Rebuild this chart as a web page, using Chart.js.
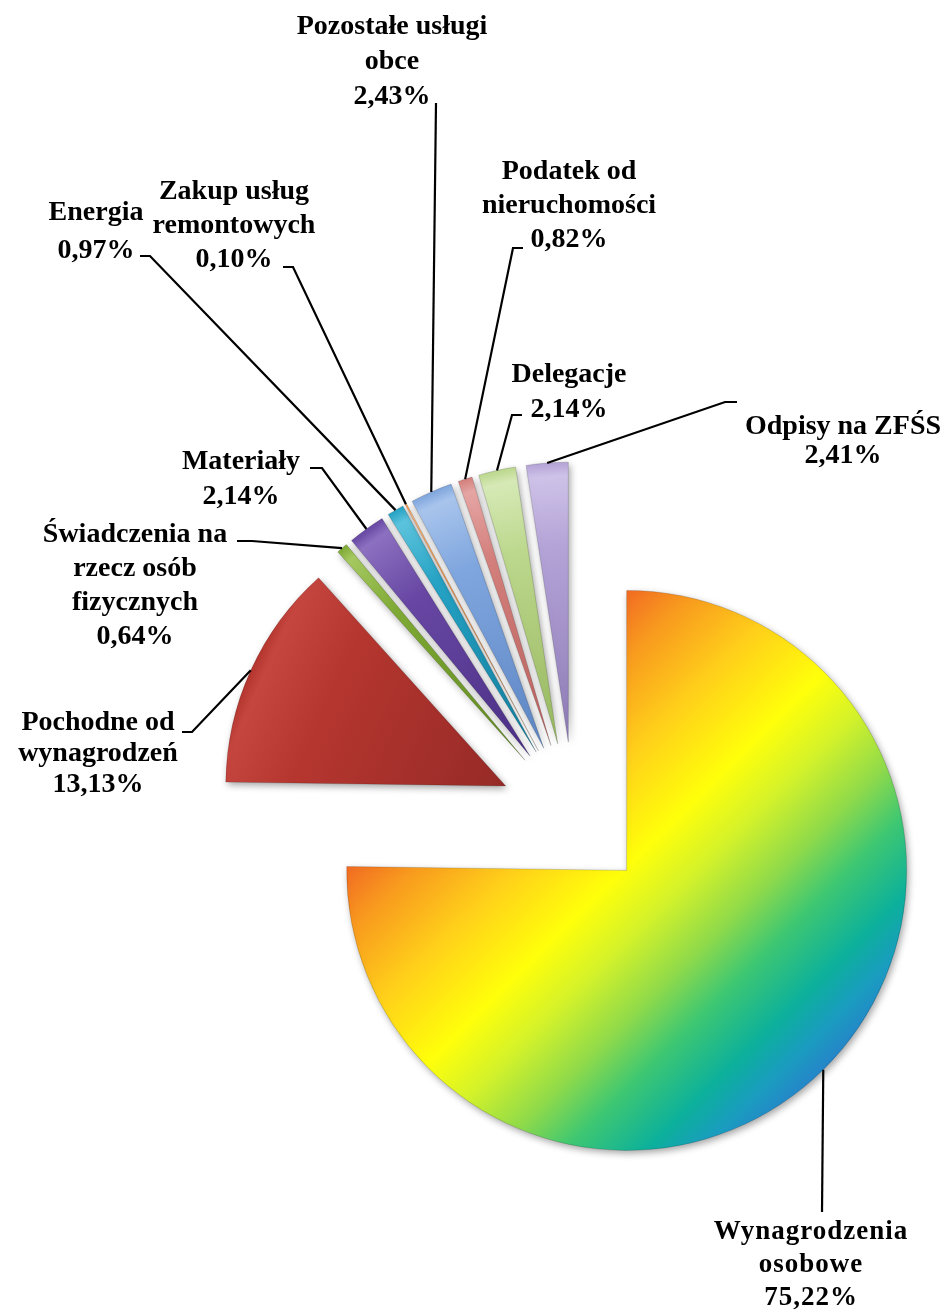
<!DOCTYPE html>
<html lang="pl">
<head>
<meta charset="utf-8">
<title>Struktura wydatków</title>
<script src="https://cdn.jsdelivr.net/npm/chart.js@4.4.1/dist/chart.umd.min.js"></script>
<style>
    html, body { margin: 0; padding: 0; background: #ffffff; }
    #wrap { width: 949px; height: 1312px; }
</style>
</head>
<body>
<div id="wrap"><canvas id="wykres" width="949" height="1312"></canvas></div>
<script>
// dane
const kategorie = ['Wynagrodzenia osobowe', 'Pochodne od wynagrodzeń', 'Świadczenia na rzecz osób fizycznych',
    'Materiały', 'Energia', 'Zakup usług remontowych', 'Pozostałe usługi obce',
    'Podatek od nieruchomości', 'Delegacje', 'Odpisy na ZFŚS'];
const udzialy = [75.22, 13.13, 0.64, 2.14, 0.97, 0.10, 2.43, 0.82, 2.14, 2.41];
// podział nazw na linie, jak na oryginale
const nazwyWLiniach = [
    ['Wynagrodzenia', 'osobowe'],
    ['Pochodne od', 'wynagrodzeń'],
    ['Świadczenia na', 'rzecz osób', 'fizycznych'],
    ['Materiały'],
    ['Energia'],
    ['Zakup usług', 'remontowych'],
    ['Pozostałe usługi', 'obce'],
    ['Podatek od', 'nieruchomości'],
    ['Delegacje'],
    ['Odpisy na ZFŚS']
];

// wygląd
const PROMIEN = 280;
const ODSUNIECIE = 75;
const kolory = [
    null, // gradient tęczowy
    ['#962a27', '#b5362f', '#c4463f'],
    ['#5f8a22', '#7faa35', '#a5c860'],
    ['#4b2f85', '#6747a3', '#8c70c0'],
    ['#147e9e', '#25a2c4', '#5cc3dd'],
    ['#d9772e', '#f39646', '#f8b47c'],
    ['#5e86c4', '#7fa6de', '#a8c4ec'],
    ['#b9625f', '#d4807d', '#e5a5a3'],
    ['#98b860', '#bcd88d', '#d6e9b6'],
    ['#8e7bb6', '#b4a3d7', '#cec2e8']
];
const tecza = [
    [0, '#f26b23'], [0.1, '#f89a1e'], [0.25, '#ffd01a'], [0.41, '#ffff0a'], [0.52, '#d4f22a'],
    [0.64, '#8fda4a'], [0.74, '#3ec772'], [0.86, '#0cb09b'], [0.94, '#1a9cc0'], [1, '#2585c8']
];
// położenie podpisów: środek pierwszej linii, odstęp linii, łamana linii odniesienia
const podpisy = [
    { x: 811, y: 1232, lh: 33, linia: [[822, 1212]] },
    { x: 98, y: 723, lh: 31, linia: [[192, 732], [182, 732]] },
    { x: 135, y: 535, lh: 34, linia: [[252, 541], [237, 541]] },
    { x: 241, y: 462, lh: 35, linia: [[322, 468], [310, 468]] },
    { x: 96, y: 213, lh: 38, linia: [[150, 256], [140, 256]] },
    { x: 234, y: 192, lh: 34, linia: [[293, 267], [283, 267]] },
    { x: 392, y: 27, lh: 35, linia: [[436, 103]] },
    { x: 569, y: 172, lh: 34, linia: [[513, 248], [523, 248]] },
    { x: 569, y: 375, lh: 35, linia: [[512, 415], [522, 415]] },
    { x: 843, y: 427, lh: 29, linia: [[725, 402], [737, 402]] }
];

function procent(v) {
    return v.toFixed(2).replace('.', ',') + '%';
}

function srodek(chart) {
    const ca = chart.chartArea;
    return { x: (ca.left + ca.right) / 2, y: (ca.top + ca.bottom) / 2 };
}

// geometria wycinka (do gradientów, zanim elementy mają pozycje)
function geometria(chart, i) {
    const c = srodek(chart);
    const suma = udzialy.reduce((a, b) => a + b, 0);
    let przed = 0;
    for (let k = 0; k < i; k++) przed += udzialy[k];
    const a0 = -Math.PI / 2 + 2 * Math.PI * przed / suma;
    const a1 = a0 + 2 * Math.PI * udzialy[i] / suma;
    const mid = (a0 + a1) / 2;
    return {
        x: c.x + Math.cos(mid) * ODSUNIECIE,
        y: c.y + Math.sin(mid) * ODSUNIECIE,
        dx: Math.cos(mid), dy: Math.sin(mid),
        pol: (a1 - a0) / 2
    };
}

function tlo(context) {
    const chart = context.chart;
    const i = context.dataIndex;
    if (!chart.chartArea) return i === 0 ? '#ffff00' : kolory[i][1];
    const g = geometria(chart, i);
    const ctx = chart.ctx;
    if (i === 0) {
        const t0 = PROMIEN * Math.cos(g.pol);
        const gr = ctx.createLinearGradient(g.x + g.dx * t0, g.y + g.dy * t0,
            g.x + g.dx * PROMIEN, g.y + g.dy * PROMIEN);
        tecza.forEach(s => gr.addColorStop(s[0], s[1]));
        return gr;
    }
    const gr = ctx.createLinearGradient(g.x, g.y, g.x + g.dx * PROMIEN, g.y + g.dy * PROMIEN);
    gr.addColorStop(0, kolory[i][0]);
    gr.addColorStop(0.7, kolory[i][1]);
    gr.addColorStop(0.95, kolory[i][2]);
    gr.addColorStop(1, kolory[i][1]);
    return gr;
}

// rozsunięcie wszystkich wycinków o tę samą odległość + cień
const rozsuniecie = {
    id: 'rozsuniecie',
    beforeDatasetsDraw(chart) {
        const c = srodek(chart);
        chart.getDatasetMeta(0).data.forEach(arc => {
            const mid = (arc.startAngle + arc.endAngle) / 2;
            arc.x = c.x + Math.cos(mid) * ODSUNIECIE;
            arc.y = c.y + Math.sin(mid) * ODSUNIECIE;
        });
    },
    beforeDatasetDraw(chart) {
        const ctx = chart.ctx;
        ctx.save();
        ctx.shadowColor = 'rgba(0, 0, 0, 0.35)';
        ctx.shadowBlur = 7;
        ctx.shadowOffsetX = 2;
        ctx.shadowOffsetY = 3;
    },
    afterDatasetDraw(chart) {
        chart.ctx.restore();
    }
};

// podpisy z liniami odniesienia
const etykiety = {
    id: 'etykiety',
    afterDatasetsDraw(chart) {
        const ctx = chart.ctx;
        const meta = chart.getDatasetMeta(0);
        ctx.save();
        ctx.strokeStyle = '#000000';
        ctx.lineWidth = 2.2;
        meta.data.forEach((arc, i) => {
            const mid = (arc.startAngle + arc.endAngle) / 2;
            const r = arc.outerRadius;
            ctx.beginPath();
            ctx.moveTo(arc.x + Math.cos(mid) * r, arc.y + Math.sin(mid) * r);
            podpisy[i].linia.forEach(p => ctx.lineTo(p[0], p[1]));
            ctx.stroke();
        });
        ctx.fillStyle = '#000000';
        ctx.textAlign = 'center';
        ctx.textBaseline = 'middle';
        udzialy.forEach((v, i) => {
            const linie = nazwyWLiniach[i].concat([procent(v)]);
            const p = podpisy[i];
            if (i === 0) {
                ctx.font = 'bold 27px "Liberation Serif", "Times New Roman", serif';
                ctx.letterSpacing = '1px';
            } else {
                ctx.font = 'bold 28px "Liberation Serif", "Times New Roman", serif';
                ctx.letterSpacing = '0px';
            }
            linie.forEach((t, k) => ctx.fillText(t, p.x, p.y + k * p.lh));
        });
        ctx.restore();
    }
};

const config = {
    type: 'pie',
    data: {
        labels: kategorie,
        datasets: [{
            data: udzialy,
            backgroundColor: tlo,
            borderColor: 'rgba(0, 0, 0, 0.15)',
            borderWidth: 1,
            radius: PROMIEN,
            clip: false
        }]
    },
    options: {
        responsive: false,
        animation: false,
        events: [],
        layout: { padding: { left: 199, top: 322, right: 0, bottom: 0 } },
        plugins: {
            legend: { display: false },
            tooltip: { enabled: false }
        }
    },
    plugins: [rozsuniecie, etykiety]
};

new Chart(document.getElementById('wykres'), config);
</script>
</body>
</html>
